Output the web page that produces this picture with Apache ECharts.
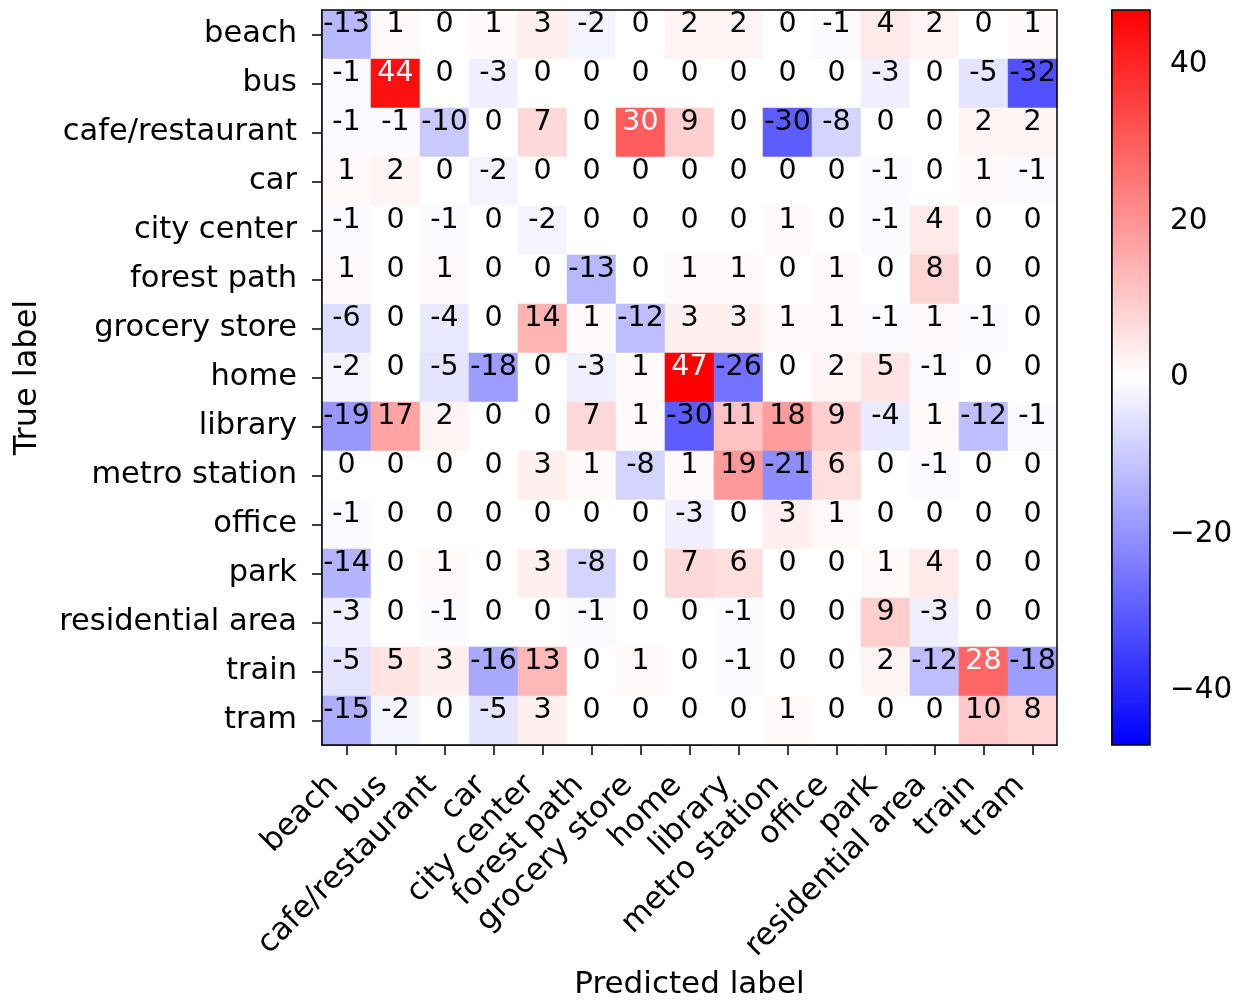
<!DOCTYPE html>
<html>
<head>
<meta charset="utf-8">
<script src="https://cdn.jsdelivr.net/npm/echarts@6/dist/echarts.min.js"></script>
<style>html,body{margin:0;padding:0;background:#fff}#c{width:1237px;height:1000px}</style>
</head>
<body>
<div id="c"></div>
<script>
const categories = ['beach','bus','cafe/restaurant','car','city center','forest path','grocery store','home','library','metro station','office','park','residential area','train','tram'];
const values = [
  [-13, 1, 0, 1, 3, -2, 0, 2, 2, 0, -1, 4, 2, 0, 1],
  [-1, 44, 0, -3, 0, 0, 0, 0, 0, 0, 0, -3, 0, -5, -32],
  [-1, -1, -10, 0, 7, 0, 30, 9, 0, -30, -8, 0, 0, 2, 2],
  [1, 2, 0, -2, 0, 0, 0, 0, 0, 0, 0, -1, 0, 1, -1],
  [-1, 0, -1, 0, -2, 0, 0, 0, 0, 1, 0, -1, 4, 0, 0],
  [1, 0, 1, 0, 0, -13, 0, 1, 1, 0, 1, 0, 8, 0, 0],
  [-6, 0, -4, 0, 14, 1, -12, 3, 3, 1, 1, -1, 1, -1, 0],
  [-2, 0, -5, -18, 0, -3, 1, 47, -26, 0, 2, 5, -1, 0, 0],
  [-19, 17, 2, 0, 0, 7, 1, -30, 11, 18, 9, -4, 1, -12, -1],
  [0, 0, 0, 0, 3, 1, -8, 1, 19, -21, 6, 0, -1, 0, 0],
  [-1, 0, 0, 0, 0, 0, 0, -3, 0, 3, 1, 0, 0, 0, 0],
  [-14, 0, 1, 0, 3, -8, 0, 7, 6, 0, 0, 1, 4, 0, 0],
  [-3, 0, -1, 0, 0, -1, 0, 0, -1, 0, 0, 9, -3, 0, 0],
  [-5, 5, 3, -16, 13, 0, 1, 0, -1, 0, 0, 2, -12, 28, -18],
  [-15, -2, 0, -5, 3, 0, 0, 0, 0, 1, 0, 0, 0, 10, 8]
];
const colorbarTicks = [-40, -20, 0, 20, 40];
const vmax = 47;
const thresh = vmax / 2;

const data = [];
values.forEach((row, i) => {
  row.forEach((v, j) => {
    data.push({
      value: [j, i, v],
      label: { color: v > thresh ? '#ffffff' : '#000000' }
    });
  });
});

const font = 'DejaVu Sans';
const chart = echarts.init(document.getElementById('c'), null, { renderer: 'canvas' });
chart.setOption({
  animation: false,
  backgroundColor: '#ffffff',
  grid: [
    { left: 322, top: 10, width: 735, height: 735, show: true, borderColor: '#000', borderWidth: 1.5, z: 5, backgroundColor: 'transparent', containLabel: false, outerBoundsMode: 'none' },
    { left: 1112, top: 10, width: 38, height: 735, show: true, borderColor: '#000', borderWidth: 1.5, z: 10, backgroundColor: 'transparent', containLabel: false, outerBoundsMode: 'none' }
  ],
  xAxis: [
    {
      type: 'category', data: categories, gridIndex: 0, position: 'bottom',
      axisLine: { show: true, lineStyle: { color: '#000', width: 1.5 } },
      axisTick: { show: true, alignWithLabel: true, length: 10, lineStyle: { color: '#000', width: 1.5 } },
      axisLabel: { interval: 0, rotate: 45, fontSize: 31, fontFamily: font, color: '#000', margin: 23, padding: [0, 18, 0, 0] },
      splitLine: { show: false },
      name: 'Predicted label', nameLocation: 'middle', nameGap: 220,
      nameTextStyle: { fontSize: 31, fontFamily: font, color: '#000' }
    },
    { type: 'value', gridIndex: 1, show: false, min: 0, max: 1 }
  ],
  yAxis: [
    {
      type: 'category', data: categories, gridIndex: 0, inverse: true,
      axisLine: { show: true, lineStyle: { color: '#000', width: 1.5 } },
      axisTick: { show: true, alignWithLabel: true, length: 10, lineStyle: { color: '#000', width: 1.5 } },
      axisLabel: { interval: 0, fontSize: 30.5, fontFamily: font, color: '#000', margin: 25 },
      splitLine: { show: false },
      name: 'True label', nameLocation: 'middle', nameRotate: 90, nameGap: 278,
      nameTextStyle: { fontSize: 32, fontFamily: font, color: '#000' }
    },
    {
      type: 'value', gridIndex: 1, position: 'right', min: -vmax, max: vmax,
      axisLine: { show: true, lineStyle: { color: '#000', width: 1.5 } },
      axisTick: { show: true, length: 10, customValues: colorbarTicks, lineStyle: { color: '#000', width: 1.5 } },
      axisLabel: { customValues: colorbarTicks, fontSize: 29.5, fontFamily: font, color: '#000', margin: 20,
        formatter: v => String(v).replace('-', '\u2212') },
      splitLine: { show: false }
    }
  ],
  visualMap: {
    type: 'continuous', min: -vmax, max: vmax, seriesIndex: 0,
    calculable: false, realtime: false, hoverLink: false,
    left: 1112, top: 10, itemWidth: 38, itemHeight: 735, padding: 0,
    orient: 'vertical', text: null, showLabel: false,
    inRange: { color: ['#0000ff', '#ffffff', '#ff0000'] }
  },
  series: [{
    type: 'heatmap', xAxisIndex: 0, yAxisIndex: 0, data: data,
    label: { show: true, fontSize: 28.5, fontFamily: font, offset: [0, -10] },
    emphasis: { disabled: true },
    itemStyle: { borderWidth: 0 }
  }]
});
</script>
</body>
</html>
